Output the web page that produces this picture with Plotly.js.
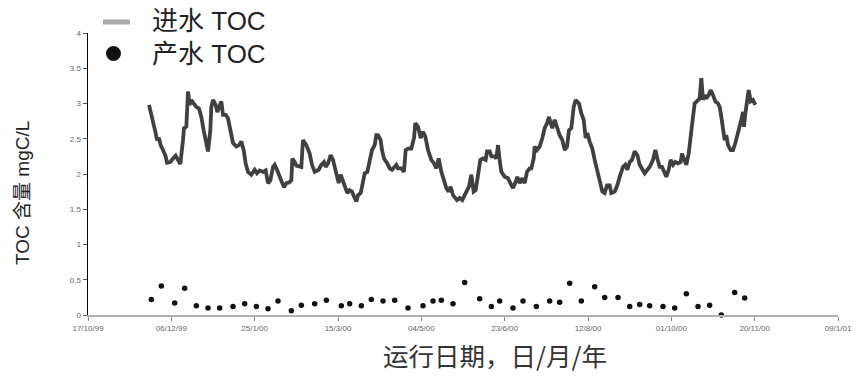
<!DOCTYPE html>
<html>
<head>
<meta charset="utf-8">
<script src="https://cdn.plot.ly/plotly-3.0.1.min.js"></script>
<style>html,body{margin:0;padding:0;background:#fff;}#chart{width:862px;height:378px;}</style>
</head>
<body>
<div id="chart"></div>
<script>
// Days after 17/10/1999 and TOC (mgC/L) values
const inflowDays = [36.6,38.0,39.4,40.6,41.4,42.6,43.6,45.0,46.6,47.4,49.4,51.0,52.6,54.0,55.4,57.0,57.6,59.0,60.0,61.0,62.0,63.4,65.0,66.6,68.0,69.4,71.0,72.0,73.4,74.0,75.0,76.6,77.6,79.0,80.0,81.0,82.6,84.0,85.4,87.0,89.0,90.6,92.0,93.4,94.6,96.0,98.0,100.0,101.4,103.0,105.0,106.6,108.0,109.4,111.0,112.0,113.4,115.0,116.6,117.6,119.0,120.6,122.0,122.6,124.0,125.0,128.0,129.0,131.0,133.0,134.4,136.0,138.4,140.0,141.6,142.6,144.0,145.6,147.0,148.0,149.6,150.4,151.6,153.0,154.0,155.6,157.0,158.4,159.6,161.0,162.0,163.6,165.0,166.0,167.6,169.0,170.4,172.0,173.0,174.0,175.6,176.4,177.6,179.6,181.0,182.4,183.6,185.0,186.0,188.0,189.6,190.6,192.0,194.0,195.6,196.4,198.0,199.6,201.0,202.4,204.0,206.0,207.6,209.0,210.4,212.0,213.6,215.0,216.4,217.6,219.0,220.0,221.4,223.0,224.6,226.0,227.4,228.6,230.0,231.4,232.6,234.0,235.4,237.0,238.6,239.4,241.0,242.0,244.0,245.0,246.0,247.0,248.0,250.0,252.0,253.4,255.0,256.6,257.6,259.0,260.6,262.0,263.4,265.0,266.0,267.4,268.0,269.4,271.0,272.6,274.0,275.4,276.6,277.6,278.6,280.0,281.4,283.0,284.6,286.0,287.4,288.6,290.0,291.4,292.6,294.6,296.0,297.4,298.6,299.6,301.0,302.6,304.0,305.4,307.0,308.6,310.0,311.4,313.0,314.0,316.0,317.6,319.0,321.0,322.4,323.6,325.0,326.4,328.0,329.6,331.0,332.4,334.0,335.6,337.0,339.0,340.4,341.6,343.0,344.4,346.0,347.0,348.4,349.6,351.0,352.4,354.0,355.6,356.4,357.6,359.0,360.4,361.6,363.0,364.0,365.6,367.0,368.0,369.0,370.0,371.0,372.4,373.6,375.0,376.4,378.0,379.0,380.0,381.0,382.0,383.0,384.0,385.6,387.0,388.4,390.0,391.0,392.0,393.0,393.6,394.4,395.6,396.4,397.6,399.0,400.4];
const inflowTOC = [2.98,2.81,2.70,2.58,2.48,2.51,2.41,2.34,2.25,2.16,2.17,2.22,2.26,2.20,2.14,2.48,2.65,2.67,3.17,2.98,3.05,3.00,2.95,2.93,2.81,2.62,2.41,2.32,2.62,2.95,3.05,2.98,2.88,2.95,3.03,2.84,2.84,2.79,2.62,2.44,2.39,2.41,2.46,2.34,2.15,2.03,1.99,2.06,2.01,2.05,2.03,2.05,1.87,1.91,2.10,2.13,2.06,1.96,1.87,1.81,1.87,1.88,1.91,2.22,2.17,2.12,2.10,2.48,2.41,2.29,2.13,2.03,2.06,2.13,2.17,2.10,2.15,2.27,2.20,2.10,1.96,1.87,1.99,1.91,1.82,1.73,1.77,1.75,1.68,1.61,1.70,1.73,1.89,2.01,2.03,2.20,2.34,2.41,2.55,2.55,2.48,2.34,2.22,2.15,2.08,2.06,2.10,2.13,2.08,2.08,2.03,2.34,2.36,2.36,2.51,2.72,2.67,2.51,2.60,2.53,2.34,2.20,2.15,2.08,2.22,2.03,1.91,1.80,1.75,1.82,1.70,1.66,1.63,1.66,1.63,1.70,1.77,1.82,1.99,1.75,1.77,2.03,2.20,2.22,2.20,2.32,2.32,2.25,2.25,2.22,2.41,2.20,2.03,1.96,1.94,1.87,1.80,1.89,1.96,1.87,1.94,1.87,2.03,2.08,2.08,2.22,2.39,2.34,2.39,2.51,2.65,2.72,2.81,2.72,2.65,2.77,2.67,2.55,2.48,2.34,2.39,2.62,2.65,2.95,3.05,3.00,2.86,2.77,2.51,2.58,2.46,2.36,2.20,2.06,1.87,1.75,1.73,1.84,1.84,1.73,1.75,1.84,1.96,2.10,2.13,2.06,2.17,2.20,2.32,2.27,2.13,2.08,2.01,2.06,2.10,2.20,2.34,2.22,2.10,2.10,2.03,1.96,2.06,2.20,2.13,2.17,2.15,2.17,2.29,2.20,2.13,2.29,2.58,2.81,3.00,3.03,3.07,3.36,3.05,3.12,3.07,3.12,3.19,3.12,3.03,3.00,2.95,2.81,2.65,2.48,2.55,2.41,2.34,2.34,2.44,2.58,2.65,2.77,2.88,2.67,2.86,3.10,3.19,3.03,3.05,2.98];

const outflowDays = [38,44,52,58,65,72,79,87,94,101,108,114,122,128,136,143,152,157,164,170,177,184,192,201,207,212,219,226,235,242,247,255,261,269,277,283,289,296,304,310,318,325,331,337,345,352,359,366,373,380,388,394];
const outflowTOC = [0.22,0.41,0.17,0.38,0.13,0.10,0.10,0.12,0.16,0.12,0.09,0.20,0.06,0.14,0.16,0.21,0.13,0.16,0.13,0.22,0.20,0.21,0.10,0.13,0.20,0.21,0.16,0.46,0.23,0.12,0.20,0.10,0.20,0.12,0.20,0.18,0.45,0.20,0.40,0.25,0.25,0.12,0.15,0.13,0.12,0.10,0.30,0.12,0.14,0.00,0.32,0.24];

const tickDays = [0,50,100,150,200,250,300,350,400,450];
const tickLabels = ['17/10/99','06/12/99','25/1/00','15/3/00','04/5/00','23/6/00','12/8/00','01/10/00','20/11/00','09/1/01'];
const yTicks = [0,0.5,1,1.5,2,2.5,3,3.5,4];
const yTickLabels = ['0','0.5','1','1.5','2','2.5','3','3.5','4'];

const seriesNames = ['进水 TOC','产水 TOC'];
const yTitle = 'TOC 含量 mgC/L';
const xTitle = '运行日期，日/月/年';

const origin = Date.UTC(1999, 9, 17);
function toDate(d) {
  return new Date(origin + d * 86400000).toISOString().slice(0, 19).replace('T', ' ');
}

const FONT = 'Liberation Sans, Arial, Noto Sans CJK SC, sans-serif';
const CJK = 'Noto Sans CJK SC, Liberation Sans, sans-serif';

const traces = [
  {
    x: inflowDays.map(toDate), y: inflowTOC, type: 'scatter', mode: 'lines',
    name: seriesNames[0], showlegend: false,
    line: {color: '#404040', width: 3.8}
  },
  {
    x: outflowDays.map(toDate), y: outflowTOC, type: 'scatter', mode: 'markers',
    name: seriesNames[1], showlegend: false, cliponaxis: false,
    marker: {color: '#111', size: 5.5, symbol: 'circle'}
  }
];

const L = 88, R = 838, T = 33, B = 315;
const px = v => (v - L) / (R - L);
const py = v => (B - v) / (B - T);

const layout = {
  width: 862, height: 378,
  margin: {l: L, r: 862 - R, t: T, b: 378 - B, pad: 0},
  paper_bgcolor: '#fff', plot_bgcolor: '#fff',
  showlegend: false,
  xaxis: {
    type: 'date',
    range: [toDate(0), toDate(450)],
    tickvals: tickDays.map(toDate), ticktext: tickLabels,
    showgrid: false, zeroline: false,
    showline: true, linecolor: '#b0b0b0', linewidth: 2,
    ticks: 'outside', ticklen: 4, tickcolor: '#888', tickwidth: 1,
    tickfont: {family: FONT, size: 8, color: '#666'}
  },
  yaxis: {
    range: [0, 4],
    tickvals: yTicks, ticktext: yTickLabels,
    showgrid: false, zeroline: false,
    showline: true, linecolor: '#000', linewidth: 1.5,
    ticks: 'outside', ticklen: 4, tickcolor: '#555', tickwidth: 1,
    tickfont: {family: FONT, size: 8, color: '#666'}
  },
  shapes: [
    {type: 'line', xref: 'paper', yref: 'paper', x0: px(103), x1: px(130), y0: py(22), y1: py(22),
     line: {color: '#aaaaaa', width: 5}},
    {type: 'circle', xref: 'paper', yref: 'paper', x0: px(106), x1: px(121), y0: py(61), y1: py(46),
     fillcolor: '#111', line: {color: '#111', width: 0}}
  ],
  annotations: [
    {text: seriesNames[0], xref: 'paper', yref: 'paper', x: px(150), y: py(21), xanchor: 'left', yanchor: 'middle',
     showarrow: false, font: {family: FONT, size: 26, color: '#222'}},
    {text: seriesNames[1], xref: 'paper', yref: 'paper', x: px(150), y: py(54), xanchor: 'left', yanchor: 'middle',
     showarrow: false, font: {family: FONT, size: 26, color: '#222'}},
    {text: yTitle, xref: 'paper', yref: 'paper', x: px(23), y: py(193), xanchor: 'center', yanchor: 'middle',
     textangle: -90, showarrow: false, font: {family: FONT, size: 19, color: '#222'}},
    {text: xTitle, xref: 'paper', yref: 'paper', x: px(495), y: py(354), xanchor: 'center', yanchor: 'middle',
     showarrow: false, font: {family: CJK, size: 25.5, color: '#333'}}
  ]
};

Plotly.newPlot('chart', traces, layout, {staticPlot: true, displayModeBar: false});
</script>
</body>
</html>
